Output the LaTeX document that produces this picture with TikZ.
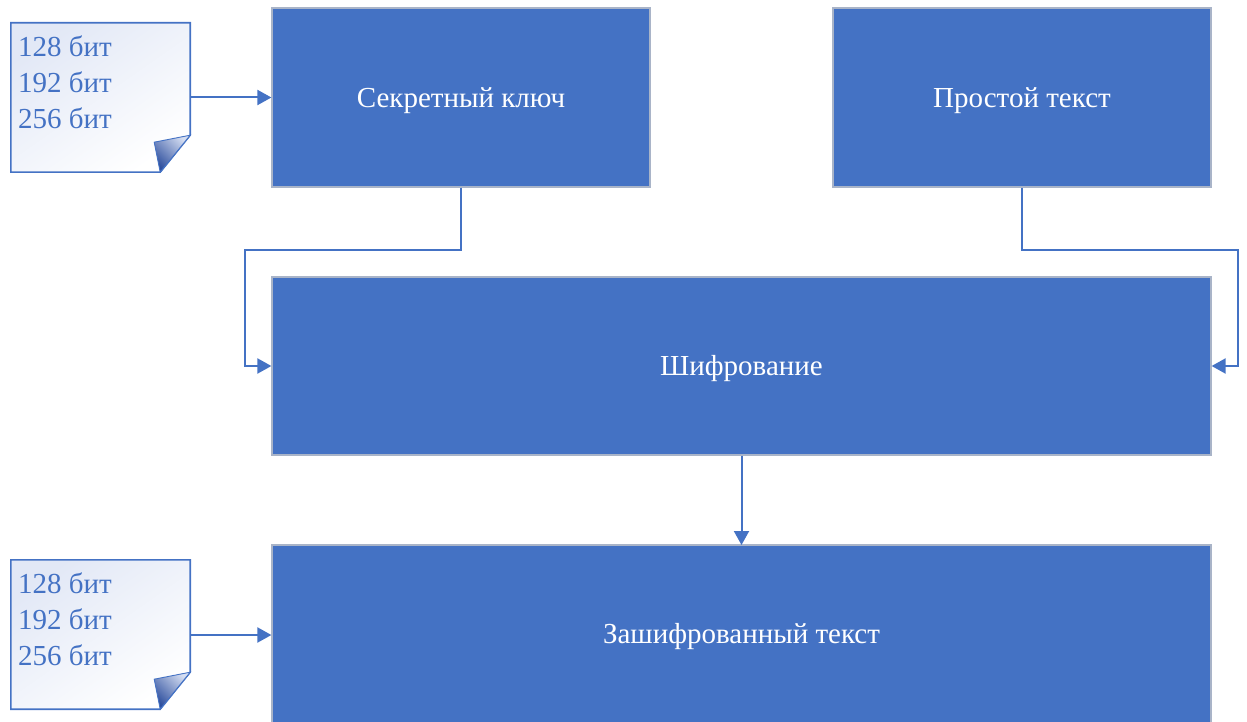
\documentclass[tikz,border=0pt]{standalone}
\usepackage{fontspec}
\setmainfont{Liberation Serif}
\usetikzlibrary{arrows.meta}
\definecolor{boxblue}{HTML}{4472C4}
\definecolor{boxedge}{HTML}{A9B4C8}
\definecolor{foldDark}{HTML}{2E4F9E}
\definecolor{foldLight}{HTML}{D5DEF2}
\definecolor{noteTint}{HTML}{E2E8F6}
\tikzset{
  block/.style={fill=boxblue, draw=boxedge, line width=1.2pt, text=white,
    font=\fontsize{29}{34}\selectfont, inner sep=0pt},
  conn/.style={draw=boxblue, line width=2pt,
    -{Triangle[length=14pt,width=15pt]}},
  notebody/.style={draw=boxblue, line width=1.6pt},
  notetext/.style={text=boxblue, font=\fontsize{29}{36}\selectfont,
    align=left, inner sep=0pt, anchor=north west},
  noteframe/.style={draw=none, inner sep=0pt, minimum width=179pt, minimum height=149pt}
}
\begin{document}
\begin{tikzpicture}[x=1pt,y=-1pt]
\useasboundingbox (0,0) rectangle (1247,722);

% blocks
\node[block, minimum width=378pt, minimum height=179pt] (key) at (461,97.5) {};
\node[block, minimum width=378pt, minimum height=179pt] (plain) at (1022,97.5) {};
\node[block, minimum width=939pt, minimum height=178pt] (enc) at (741.5,366) {};
\path[fill=boxblue, draw=boxedge, line width=1.2pt] (272,545) -- (272,724) -- (1211,724) -- (1211,545) -- cycle;
\node[block, draw=none, fill=none, minimum width=939pt, minimum height=178pt] (cipher) at (741.5,634) {};
\foreach \n/\t in {key/Секретный ключ, plain/Простой текст, enc/Шифрование, cipher/Зашифрованный текст}
  \node[text=white, font=\fontsize{29}{34}\selectfont, inner sep=0pt] (\n-label) at ([yshift=-3pt]\n.center) {\t};

% notes
\foreach \n/\yy in {note1/23, note2/560}{
  \node[noteframe] (\n) at (100.5,\yy+74.5) {};
  \shade[top color=noteTint, bottom color=white, shading angle=35]
    (\n.north west) -- (\n.north east) -- ([yshift=37pt]\n.south east) -- ([xshift=-30pt]\n.south east) -- (\n.south west) -- cycle;
  \draw[notebody]
    (\n.north west) -- (\n.north east) -- ([yshift=37pt]\n.south east) -- ([xshift=-30pt]\n.south east) -- (\n.south west) -- cycle;
  \shade[left color=foldDark, right color=foldLight, shading angle=135]
    ([xshift=-36pt,yshift=30pt]\n.south east) -- ([yshift=37pt]\n.south east) -- ([xshift=-30pt]\n.south east) -- cycle;
  \draw[boxblue, line width=0.9pt]
    ([xshift=-36pt,yshift=30pt]\n.south east) -- ([yshift=37pt]\n.south east) -- ([xshift=-30pt]\n.south east) -- cycle;
}
\node[notetext] (t1) at (18,36) {128 бит\\192 бит\\256 бит};
\node[notetext] (t2) at (18,573) {128 бит\\192 бит\\256 бит};

% connectors
\coordinate (k1) at (461,250);
\coordinate (k2) at (245,250);
\coordinate (p1) at (1022,250);
\coordinate (p2) at (1238,250);
\draw[conn] (note1.east |- key.west) -- (key.west);
\draw[conn] (note2.east |- 0,635) -- (cipher.west |- 0,635);
\draw[conn] (key.south) -- (k1) -- (k2) |- (enc.west);
\draw[conn] (plain.south) -- (p1) -- (p2) |- (enc.east);
\draw[conn] (enc.south) -- (enc.south |- 0,545);
\end{tikzpicture}
\end{document}
